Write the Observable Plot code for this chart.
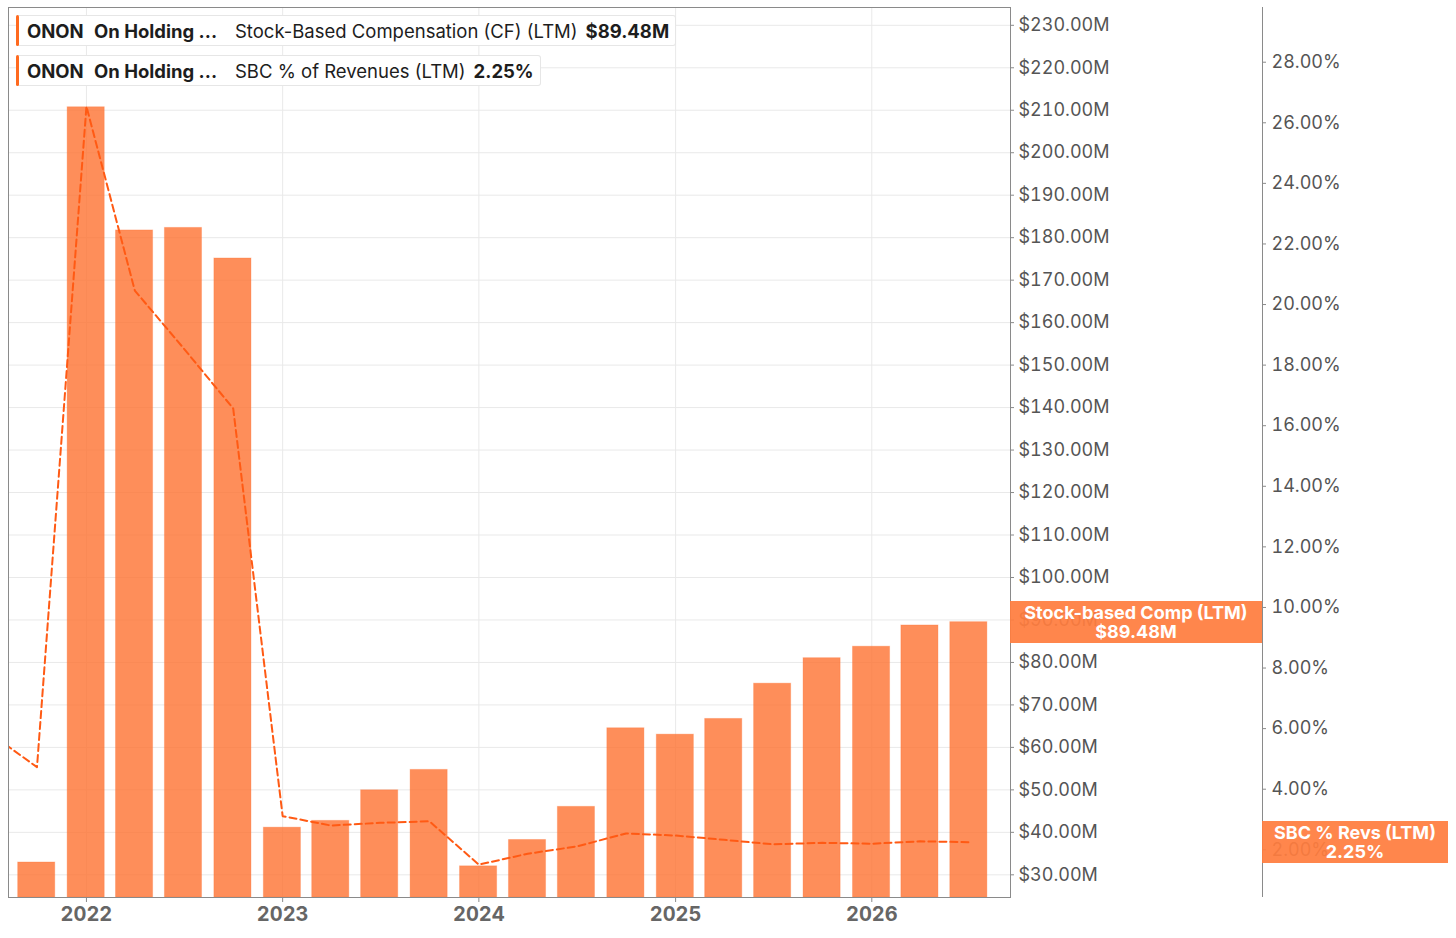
<!DOCTYPE html>
<html>
<head>
<meta charset="utf-8">
<script src="https://cdn.jsdelivr.net/npm/d3@7"></script>
<script src="https://cdn.jsdelivr.net/npm/@observablehq/plot@0.6"></script>
<style>
  html, body { margin: 0; padding: 0; background: #fff; overflow: hidden; }
  #wrap { position: relative; width: 1456px; height: 938px; font-family: Inter, "Noto Sans", sans-serif; }
  .legend { position: absolute; left: 16px; height: 31px; display: flex; align-items: center; background: #fff;
            border: 1px solid #e6e6e6; border-left: none; border-radius: 3px; box-sizing: border-box; font-size: 18.5px; color: #1d1d1d; white-space: nowrap; }
  .legend .bar { width: 3px; height: 31px; background: #ff6a1f; border-radius: 2px; margin-right: 8px; }
  .legend .tk { font-weight: 700; width: 67px; }
  .legend .nm { font-weight: 700; width: 141px; }
  .legend .val { font-weight: 700; margin-left: 8px; padding-right: 6px; }
  .vbox { position: absolute; background: rgba(255, 125, 62, 0.93); color: #fff; font-weight: 700; font-size: 18px; line-height: 19px;
          text-align: center; box-sizing: border-box; padding-top: 2px; white-space: nowrap; }
</style>
</head>
<body>
<div id="wrap"></div>
<script>
// ---- data ----
const quarters = ["2021-07-01","2021-10-01","2022-01-01","2022-04-01","2022-07-01","2022-10-01",
  "2023-01-01","2023-04-01","2023-07-01","2023-10-01","2024-01-01","2024-04-01","2024-07-01","2024-10-01",
  "2025-01-01","2025-04-01","2025-07-01","2025-10-01","2026-01-01","2026-04-01","2026-07-01"];
const sbcMillions = [null, 32.9, 210.7, 181.7, 182.3, 175.1, 41.1, 42.7, 49.9, 54.7, 32.0, 38.2, 46.0,
  64.5, 63.0, 66.7, 75.0, 81.0, 83.7, 88.7, 89.48];
const sbcPctRevenue = [5.9, 4.73, 26.54, 20.46, 18.55, 16.57, 3.11, 2.80, 2.89, 2.94, 1.51, 1.87, 2.11,
  2.54, 2.47, 2.33, 2.18, 2.23, 2.20, 2.28, 2.25];
const usdTicks = d3.range(30, 231, 10);
const pctTicks = d3.range(2, 29, 2);
const yearTicks = ["2022-01-01","2023-01-01","2024-01-01","2025-01-01","2026-01-01"].map(d => new Date(d));
const usdDomain = [24.66, 234.19];
const pctDomain = [0.425, 29.806];
const xDomain = [new Date("2021-08-09"), new Date("2026-09-16")];
const lastUsd = 89.48, lastPct = 2.25;

const toUsd = d3.scaleLinear().domain(pctDomain).range(usdDomain);
const rows = quarters.map((q, i) => ({date: new Date(q), sbc: sbcMillions[i], pct: sbcPctRevenue[i]}));
const barRows = rows.filter(r => r.sbc != null);

const W = 1456, H = 938, mL = 8, mR = 446, mT = 7, mB = 41;
const grid = "#e9e9e9", axisCol = "#8a8a8a";

const plot = Plot.plot({
  width: W, height: H,
  marginLeft: mL, marginRight: mR, marginTop: mT, marginBottom: mB,
  style: {fontFamily: "Inter, 'Noto Sans', sans-serif", background: "#fff"},
  x: {type: "utc", domain: xDomain, label: null},
  y: {domain: usdDomain, label: null},
  marks: [
    Plot.gridY(usdTicks, {stroke: grid, strokeOpacity: 1}),
    Plot.gridX(yearTicks, {stroke: grid, strokeOpacity: 1}),
    Plot.rectY(barRows, {
      x1: d => d3.utcDay.offset(d.date, -35), x2: d => d3.utcDay.offset(d.date, 34),
      y1: usdDomain[0], y2: "sbc",
      fill: "#fe7231", fillOpacity: 0.8, stroke: "#fe7231", strokeOpacity: 0.3, clip: true
    }),
    Plot.lineY(rows, {x: "date", y: d => toUsd(d.pct), stroke: "#ff5a14", strokeWidth: 2,
      strokeDasharray: "7,4", clip: true}),
    Plot.frame({stroke: axisCol}),
    Plot.ruleX([xDomain[1]], {dx: 252, stroke: axisCol}),
    Plot.axisX(yearTicks, {tickFormat: "%Y", fontSize: 20, fontWeight: 700, fill: "#666", stroke: axisCol,
      tickSize: 5, tickPadding: 4, label: null}),
    Plot.axisY(usdTicks, {anchor: "right", tickSize: 3, tickPadding: 5, fontSize: 18, fill: "#555",
      stroke: axisCol, tickFormat: d => `$${d.toFixed(2)}M`, label: null}),
    Plot.axisY(pctTicks.map(p => toUsd(p)), {anchor: "right", dx: 252, tickSize: 3, tickPadding: 6,
      fontSize: 18, fill: "#555", stroke: axisCol, label: null,
      tickFormat: v => `${(Math.round(toUsd.invert(v) * 100) / 100).toFixed(2)}%`})
  ]
});

const wrap = document.getElementById("wrap");
wrap.appendChild(plot);
const y = plot.scale("y");

// legends
const legends = [
  {top: 15, ticker: "ONON", name: "On Holding ...", label: "Stock-Based Compensation (CF) (LTM)", value: `$${lastUsd.toFixed(2)}M`},
  {top: 55, ticker: "ONON", name: "On Holding ...", label: "SBC % of Revenues (LTM)", value: `${lastPct.toFixed(2)}%`}
];
for (const l of legends) {
  const div = document.createElement("div");
  div.className = "legend";
  div.style.top = l.top + "px";
  div.innerHTML = `<span class="bar"></span><span class="tk">${l.ticker}</span><span class="nm">${l.name}</span><span>${l.label}</span><span class="val">${l.value}</span>`;
  wrap.appendChild(div);
}

// value boxes
const boxes = [
  {left: W - mR, width: 252, cy: y.apply(lastUsd), line1: "Stock-based Comp (LTM)", line2: `$${lastUsd.toFixed(2)}M`},
  {left: W - mR + 252, width: 186, cy: y.apply(toUsd(lastPct)), line1: "SBC % Revs (LTM)", line2: `${lastPct.toFixed(2)}%`}
];
for (const b of boxes) {
  const div = document.createElement("div");
  div.className = "vbox";
  div.style.left = b.left + "px";
  div.style.width = b.width + "px";
  div.style.top = (b.cy - 21) + "px";
  div.style.height = "42px";
  div.innerHTML = `${b.line1}<br>${b.line2}`;
  wrap.appendChild(div);
}
</script>
</body>
</html>
